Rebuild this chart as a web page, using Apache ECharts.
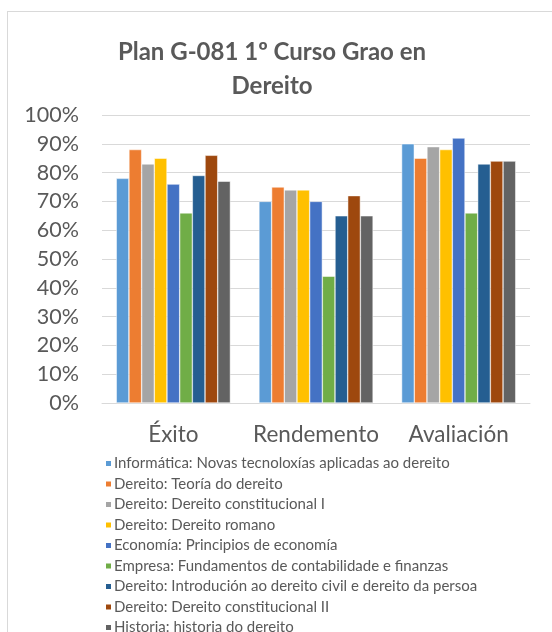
<!DOCTYPE html>
<html>
<head>
<meta charset="utf-8">
<script src="https://cdn.jsdelivr.net/npm/echarts@6/dist/echarts.min.js"></script>
<style>
  html, body { margin: 0; padding: 0; overflow: hidden; background: #fff; }
  #chart {
    position: absolute;
    left: 7px;
    top: 11px;
    width: 560px;
    height: 640px;
    border: 1px solid #d9d9d9;
  }
</style>
</head>
<body>
<div id="chart"></div>
<script>
// categorias do eixo X
const categories = ['Éxito', 'Rendemento', 'Avaliación']

// materias (series) e as suas cores
const seriesNames = [
  'Informática: Novas tecnoloxías aplicadas ao dereito',
  'Dereito: Teoría do dereito',
  'Dereito: Dereito constitucional I',
  'Dereito: Dereito romano',
  'Economía: Principios de economía',
  'Empresa: Fundamentos de contabilidade e finanzas',
  'Dereito: Introdución ao dereito civil e dereito da persoa',
  'Dereito: Dereito constitucional II',
  'Historia: historia do dereito'
]
const colors = ['#5b9bd5', '#ed7d31', '#a5a5a5', '#ffc000', '#4472c4', '#70ad47', '#255e91', '#9e480e', '#636363']

// valores (%) por materia: [Éxito, Rendemento, Avaliación]
const informatica = [78, 70, 90]
const teoria = [88, 75, 85]
const constitucionalI = [83, 74, 89]
const romano = [85, 74, 88]
const economia = [76, 70, 92]
const empresa = [66, 44, 66]
const civil = [79, 65, 83]
const constitucionalII = [86, 72, 84]
const historia = [77, 65, 84]

const values = [informatica, teoria, constitucionalI, romano, economia, empresa, civil, constitucionalII, historia]

const fontFamily = 'Lato, "Liberation Sans", sans-serif'
const textColor = '#595959'

const myChart = echarts.init(document.getElementById('chart'))

const option = {
  animation: false,
  color: colors,
  textStyle: { fontFamily: fontFamily },
  title: {
    text: 'Plan G-081 1º Curso Grao en\nDereito',
    left: 259,
    top: 18,
    textAlign: 'center',
    textStyle: {
      fontFamily: fontFamily,
      fontSize: 24,
      fontWeight: 'bold',
      color: textColor,
      lineHeight: 34
    }
  },
  grid: {
    left: 94,
    right: 38,
    top: 103,
    bottom: 249
  },
  xAxis: {
    type: 'category',
    data: categories,
    axisLine: { lineStyle: { color: '#d9d9d9' } },
    axisTick: { show: false },
    axisLabel: {
      color: textColor,
      fontSize: 22.5,
      margin: 20,
      interval: 0
    }
  },
  yAxis: {
    type: 'value',
    min: 0,
    max: 100,
    interval: 10,
    axisLine: { show: false },
    axisTick: { show: false },
    splitLine: { lineStyle: { color: '#d9d9d9' } },
    axisLabel: {
      color: textColor,
      fontSize: 21.5,
      margin: 23,
      formatter: '{value}%'
    }
  },
  legend: {
    orient: 'vertical',
    left: 91,
    top: 439,
    itemWidth: 7,
    itemHeight: 7,
    itemGap: 5.5,
    icon: 'rect',
    data: seriesNames,
    textStyle: {
      color: textColor,
      fontSize: 15,
      lineHeight: 14.5,
      padding: [0, 0, 0, -3]
    }
  },
  series: seriesNames.map((name, i) => ({
    name: name,
    type: 'bar',
    data: values[i],
    barGap: '0%',
    barCategoryGap: '20%',
    itemStyle: {
      borderColor: '#ffffff',
      borderWidth: 0.5
    }
  }))
}

myChart.setOption(option, true)
window.addEventListener('resize', () => { myChart.resize() })
</script>
</body>
</html>
